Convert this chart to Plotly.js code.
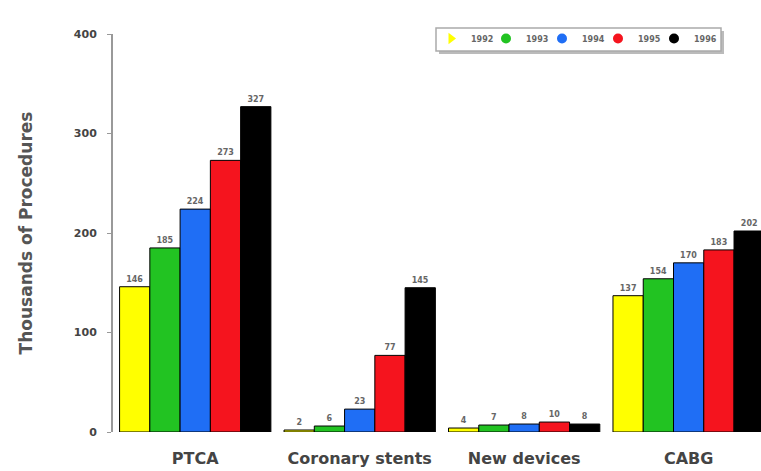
<!DOCTYPE html>
<html>
<head>
<meta charset="utf-8">
<script src="https://cdn.plot.ly/plotly-3.0.1.min.js"></script>
<style>html,body{margin:0;padding:0;background:#fff;}#chart{width:761px;height:471px;}</style>
</head>
<body>
<div id="chart"></div>
<script>
var categories = ["PTCA", "Coronary stents", "New devices", "CABG"];
var years = ["1992", "1993", "1994", "1995", "1996"];
var v1992 = [146, 2, 4, 137];
var v1993 = [185, 6, 7, 154];
var v1994 = [224, 23, 8, 170];
var v1995 = [273, 77, 10, 183];
var v1996 = [327, 145, 8, 202];
var yTicks = [0, 100, 200, 300, 400];

var series = [v1992, v1993, v1994, v1995, v1996];
var colors = ["#ffff00", "#22c322", "#1f6ef5", "#f5141e", "#000000"];
var legendSymbols = ["triangle-right", "circle", "circle", "circle", "circle"];
var FONT = "DejaVu Sans, Arial, sans-serif";

var traces = series.map(function(vals, i) {
  return {
    type: "bar",
    name: years[i],
    x: categories,
    y: vals,
    text: vals.map(String),
    textposition: "outside",
    cliponaxis: false,
    showlegend: false,
    textfont: {size: 8, color: "#666", family: FONT, weight: "bold"},
    marker: {color: colors[i], line: {color: "#000", width: 1}}
  };
});

var legFont = {size: 8, color: "#666", family: FONT, weight: "bold"};
var markerPx = [450, 505, 561, 617, 673];   // key marker positions (pixels)
var PLOT_L = 113, PLOT_W = 648;

var layout = {
  width: 761, height: 471,
  margin: {l: 113, r: 0, t: 34, b: 39},
  paper_bgcolor: "#fff", plot_bgcolor: "#fff",
  barmode: "group", bargap: 0.08, bargroupgap: 0,
  showlegend: true,
  shapes: [
    {type: "rect", xref: "paper", yref: "paper", layer: "above",
     x0: (439 - PLOT_L) / PLOT_W, x1: (724 - PLOT_L) / PLOT_W, y0: (432 - 54) / 398, y1: (432 - 31) / 398,
     fillcolor: "#bbb", line: {width: 0}},
    {type: "rect", xref: "paper", yref: "paper", layer: "above",
     x0: (436 - PLOT_L) / PLOT_W, x1: (721 - PLOT_L) / PLOT_W, y0: (432 - 51) / 398, y1: (432 - 28) / 398,
     fillcolor: "#fff", line: {color: "#aaa", width: 1.5}}
  ],
  xaxis: {
    range: [-0.5, 3.44], showline: false, ticks: "", showgrid: false,
    ticklabelstandoff: 15,
    tickfont: {size: 16, color: "#444", family: FONT, weight: "bold"}
  },
  yaxis: {
    range: [0, 400], tickvals: yTicks, ticktext: yTicks.map(String),
    showline: true, linecolor: "#999", linewidth: 2, ticks: "outside", ticklen: 4, tickcolor: "#999",
    ticklabelstandoff: 8,
    showgrid: false, zeroline: false,
    tickfont: {size: 11, color: "#444", family: FONT, weight: "bold"},
    title: {text: "Thousands of Procedures", font: {size: 17, color: "#555", family: FONT, weight: "bold"}, standoff: 37}
  }
};

// one small legend per year so the key keeps its compact spacing
years.forEach(function(y, i) {
  var key = i === 0 ? "legend" : "legend" + (i + 1);
  traces.push({
    type: "scatter", mode: "markers", name: y,
    x: [null], y: [null], showlegend: true, legend: key,
    marker: {color: colors[i], size: 10, symbol: legendSymbols[i], line: {width: 0}}
  });
  layout[key] = {
    orientation: "h", x: (markerPx[i] - 19 - PLOT_L) / PLOT_W, y: 1.025,
    xanchor: "left", yanchor: "top",
    bgcolor: "rgba(0,0,0,0)", borderwidth: 0,
    font: legFont, itemwidth: 30
  };
});

Plotly.newPlot("chart", traces, layout, {displayModeBar: false, staticPlot: true});
</script>
</body>
</html>
